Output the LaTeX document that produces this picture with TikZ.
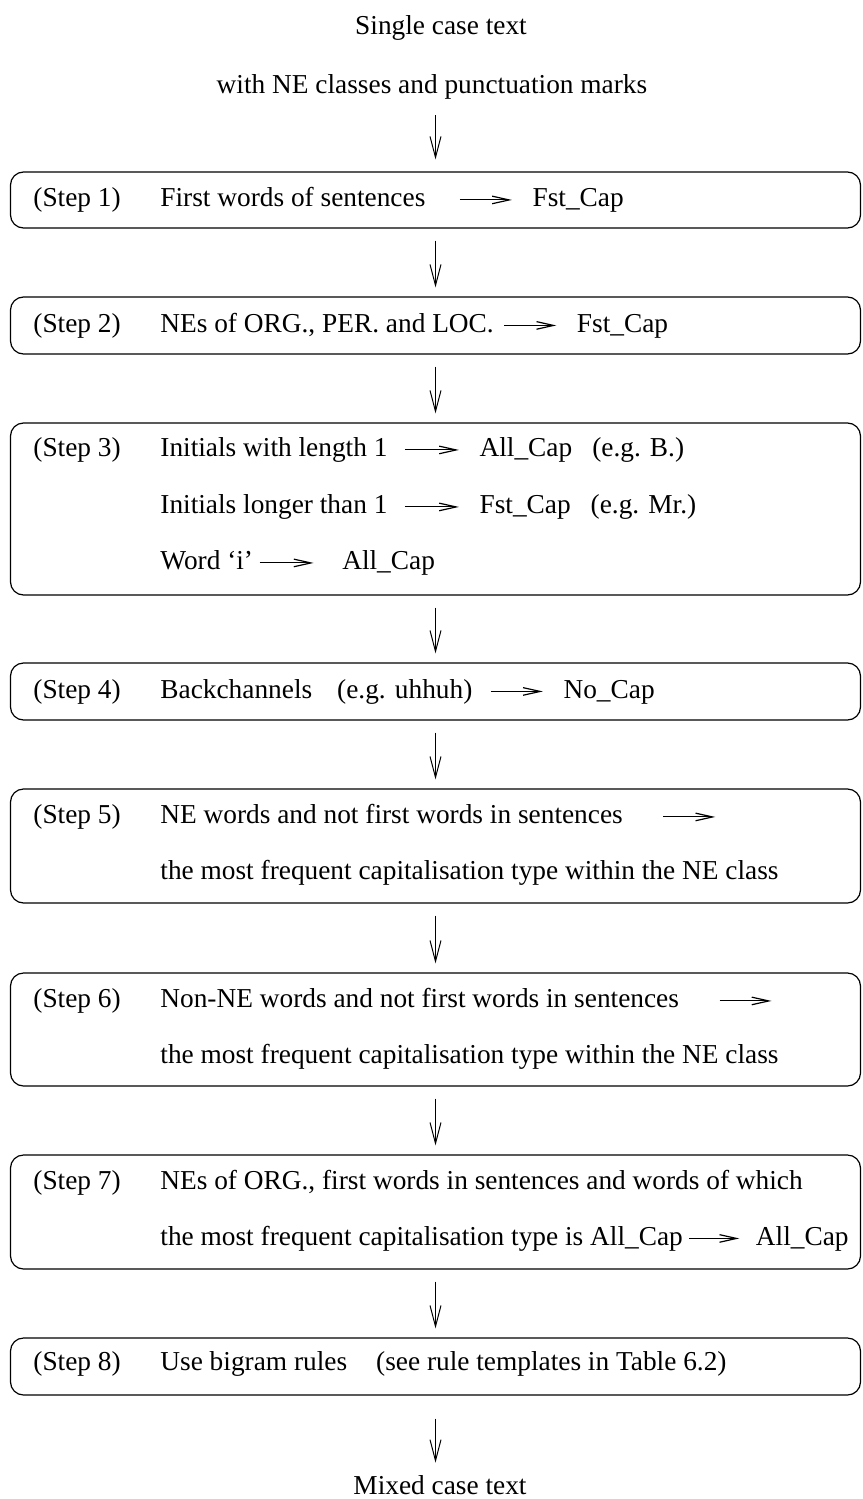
\documentclass[tikz,border=0pt]{standalone}
\usepackage{fontspec}
\setmainfont{Liberation Serif}
\usetikzlibrary{arrows.meta}

% inline "maps to" arrow used inside the rule lines
\newcommand\chevarrow[1]{\tikz[baseline=-0.24em]\draw[line width=0.5pt,-{Straight Barb[length=8.5pt,width=3.8pt,line width=0.6pt]}](0,0)--(#1,0);}

\tikzset{
  txt/.style={anchor=base west, inner sep=0pt, font=\fontsize{13.67pt}{16pt}\selectfont},
  ctxt/.style={txt, anchor=base},
  stepbox/.style={draw, line width=0.6pt, rounded corners=6.5pt, minimum width=425pt, inner sep=0pt},
  flow/.style={draw, line width=0.5pt, -{Straight Barb[length=10.5pt,width=5.5pt,line width=0.5pt]}}
}

\begin{document}
\begin{tikzpicture}[x=0.5pt, y=-0.5pt]
\useasboundingbox (0,0) rectangle (862,1499);

% input and output texts
\node[ctxt] (t1) at (441,34.5) {Single case text};
\node[ctxt] (t2) at (432,93) {with NE classes and punctuation marks};
\node[ctxt] (t3) at (440,1494) {Mixed case text};

% step frames
\node[stepbox, minimum height=28pt]  (b1) at (435.5,200)    {};
\node[stepbox, minimum height=28.5pt](b2) at (435.5,325.5)  {};
\node[stepbox, minimum height=86pt]  (b3) at (435.5,509)    {};
\node[stepbox, minimum height=28.5pt](b4) at (435.5,691.5)  {};
\node[stepbox, minimum height=57pt]  (b5) at (435.5,846)    {};
\node[stepbox, minimum height=56.5pt](b6) at (435.5,1029.5) {};
\node[stepbox, minimum height=57pt]  (b7) at (435.5,1212)   {};
\node[stepbox, minimum height=28.5pt](b8) at (435.5,1366.5) {};

% step labels
\node[txt] (s1) at (33,206.5)  {(Step 1)};
\node[txt] (s2) at (33,332)    {(Step 2)};
\node[txt] (s3) at (33,456.5)  {(Step 3)};
\node[txt] (s4) at (33,698)    {(Step 4)};
\node[txt] (s5) at (33,823.5)  {(Step 5)};
\node[txt] (s6) at (33,1007.5) {(Step 6)};
\node[txt] (s7) at (33,1189)   {(Step 7)};
\node[txt] (s8) at (33,1370)   {(Step 8)};

% rule texts
\node[txt] (r1) at (160,206.5) {First words of sentences\hspace{17pt}\chevarrow{26pt}\hspace{9pt}Fst\_Cap};
\node[txt] (r2) at (160,332) {NEs of ORG., PER. and LOC.\hspace{5pt}\chevarrow{26pt}\hspace{9pt}Fst\_Cap};
\node[txt] (r3a) at (160,456.5) {Initials with length 1\hspace{8.5pt}\chevarrow{27pt}\hspace{9pt}All\_Cap\hspace{10pt}(e.g. B.)};
\node[txt] (r3b) at (160,513.5) {Initials longer than 1\hspace{8.5pt}\chevarrow{27pt}\hspace{9pt}Fst\_Cap\hspace{10pt}(e.g. Mr.)};
\node[txt] (r3c) at (160,569.5) {Word `i'\hspace{3pt}\chevarrow{27pt}\hspace{13pt}All\_Cap};
\node[txt] (r4) at (160,698) {Backchannels\hspace{12.5pt}(e.g. uhhuh)\hspace{9pt}\chevarrow{26pt}\hspace{9pt}No\_Cap};
\node[txt] (r5a) at (160,823.5) {NE words and not first words in sentences\hspace{20pt}\chevarrow{26pt}};
\node[txt] (r5b) at (160,879.5) {the most frequent capitalisation type within the NE class};
\node[txt] (r6a) at (160,1007.5) {Non-NE words and not first words in sentences\hspace{20pt}\chevarrow{26pt}};
\node[txt] (r6b) at (160,1063.5) {the most frequent capitalisation type within the NE class};
\node[txt] (r7a) at (160,1189) {NEs of ORG., first words in sentences and words of which};
\node[txt] (r7b) at (160,1245) {the most frequent capitalisation type is All\_Cap\hspace{3pt}\chevarrow{25pt}\hspace{7pt}All\_Cap};
\node[txt] (r8) at (160,1370) {Use bigram rules\hspace{14.5pt}(see rule templates in Table 6.2)};

% flow between the stages
\draw[flow, shorten <=8pt, shorten >=6pt] (t2.south -| b1.north) -- (b1.north);
\draw[flow, shorten <=6pt, shorten >=4.5pt] (b1.south) -- (b2.north);
\draw[flow, shorten <=6pt, shorten >=4.5pt] (b2.south) -- (b3.north);
\draw[flow, shorten <=6pt, shorten >=4.5pt] (b3.south) -- (b4.north);
\draw[flow, shorten <=6pt, shorten >=4.5pt] (b4.south) -- (b5.north);
\draw[flow, shorten <=6pt, shorten >=4.5pt] (b5.south) -- (b6.north);
\draw[flow, shorten <=6pt, shorten >=4.5pt] (b6.south) -- (b7.north);
\draw[flow, shorten <=6pt, shorten >=4.5pt] (b7.south) -- (b8.north);
\draw[flow, shorten <=11.5pt, shorten >=6pt] (b8.south) -- (t3.north -| b8.south);
\end{tikzpicture}
\end{document}
